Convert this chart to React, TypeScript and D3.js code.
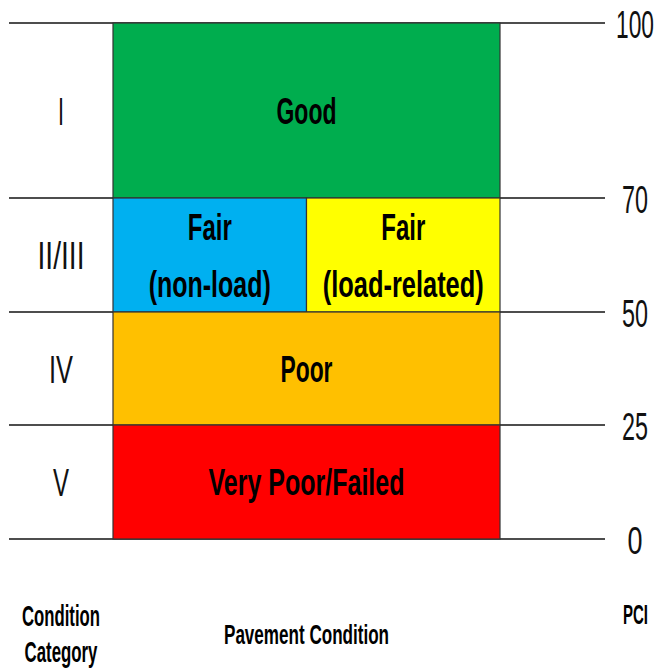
import React, { useLayoutEffect, useRef, useState } from "react";
import * as d3 from "d3";

// ---- data ----
const pciTicks = [0, 25, 50, 70, 100];
const categoryLabels = ["I", "II/III", "IV", "V"];
const categoryLow = [70, 50, 25, 0];
const categoryHigh = [100, 70, 50, 25];

const cellLabels = ["Good", "Fair|(non-load)", "Fair|(load-related)", "Poor", "Very Poor/Failed"];
const cellLow = [70, 50, 50, 25, 0];
const cellHigh = [100, 70, 70, 50, 25];
const cellColStart = [0, 0, 1, 0, 0];
const cellColEnd = [2, 1, 2, 2, 2];

const bottomLabels = ["Condition|Category", "Pavement Condition", "PCI"];

// ---- styles ----
const cellColors: Record<string, string> = {
  Good: "#00AD4E",
  "Fair|(non-load)": "#00B0F0",
  "Fair|(load-related)": "#FFFF00",
  Poor: "#FFC000",
  "Very Poor/Failed": "#FF0000",
};
const textWidths: Record<string, number> = {
  Good: 60,
  Fair: 44,
  "(non-load)": 122,
  "(load-related)": 161,
  Poor: 52,
  "Very Poor/Failed": 196,
  I: 6,
  "II/III": 47,
  IV: 24,
  V: 16,
  "100": 38,
  "70": 26,
  "50": 26,
  "25": 26,
  "0": 15,
  Condition: 78,
  Category: 73,
  "Pavement Condition": 165,
  PCI: 25,
};

const W = 657;
const H = 668;
const FONT = "'Liberation Sans', Arial, sans-serif";

function Label({
  s,
  cx,
  baseline,
  fs,
  bold,
  fill = "#000",
}: {
  s: string;
  cx: number;
  baseline: number;
  fs: number;
  bold: boolean;
  fill?: string;
}) {
  const ref = useRef<SVGTextElement>(null);
  const [sx, setSx] = useState(0.6);
  useLayoutEffect(() => {
    if (ref.current) {
      const natural = ref.current.getComputedTextLength();
      if (natural > 0) setSx(textWidths[s] / natural);
    }
  }, [s, fs]);
  return (
    <text
      ref={ref}
      transform={`translate(${cx},${baseline}) scale(${sx},1)`}
      textAnchor="middle"
      fontFamily={FONT}
      fontSize={fs}
      fontWeight={bold ? "bold" : "normal"}
      fill={fill}
    >
      {s}
    </text>
  );
}

export default function App() {
  // schematic (non-proportional) PCI axis
  const y = d3.scaleLinear().domain([0, 25, 50, 70, 100]).range([539, 425, 312, 198, 23]);
  const x = d3.scaleLinear().domain([0, 2]).range([113, 500]);
  const lineX0 = 9;
  const lineX1 = 605;
  const catX = 61;
  const tickX = 635;
  const capRatio = 0.716;
  const [condLine1, condLine2] = bottomLabels[0].split("|");

  return (
    <svg
      width={W}
      height={H}
      style={{ position: "absolute", left: 0, top: 0, display: "block", background: "#fff" }}
    >
      {/* horizontal lines */}
      {pciTicks.map((t) => (
        <line
          key={"l" + t}
          x1={lineX0}
          x2={lineX1}
          y1={y(t)}
          y2={y(t)}
          stroke="#4d4d4d"
          strokeWidth={2}
        />
      ))}
      {/* cells */}
      {cellLabels.map((c, i) => (
        <rect
          key={"r" + c}
          x={x(cellColStart[i])}
          y={y(cellHigh[i])}
          width={x(cellColEnd[i]) - x(cellColStart[i])}
          height={y(cellLow[i]) - y(cellHigh[i])}
          fill={cellColors[c]}
          stroke="#333"
          strokeWidth={1.2}
        />
      ))}
      {/* cell labels */}
      {cellLabels.map((c, i) => {
        const lines = c.split("|");
        const cx = (x(cellColStart[i]) + x(cellColEnd[i])) / 2;
        const cy = (y(cellLow[i]) + y(cellHigh[i])) / 2;
        const fs = 37;
        const cap = fs * capRatio;
        const gap = 57;
        return lines.map((s, j) => (
          <Label
            key={"c" + i + j}
            s={s}
            cx={cx}
            baseline={cy + cap / 2 + (j - (lines.length - 1) / 2) * gap}
            fs={fs}
            bold
          />
        ));
      })}
      {/* category labels */}
      {categoryLabels.map((c, i) => {
        const cy = (y(categoryLow[i]) + y(categoryHigh[i])) / 2;
        const fs = 39;
        return (
          <Label
            key={"k" + c}
            s={c}
            cx={catX}
            baseline={cy + (fs * capRatio) / 2 + 0.5}
            fs={fs}
            bold={false}
            fill="#111"
          />
        );
      })}
      {/* PCI tick labels */}
      {pciTicks.map((t) => {
        const fs = 39;
        return (
          <Label
            key={"t" + t}
            s={String(t)}
            cx={tickX}
            baseline={y(t) + 1.5 + (fs * capRatio) / 2}
            fs={fs}
            bold={false}
            fill="#111"
          />
        );
      })}
      {/* bottom labels */}
      <Label s={condLine1} cx={catX} baseline={626} fs={29} bold />
      <Label s={condLine2} cx={catX} baseline={662} fs={29} bold />
      <Label s={bottomLabels[1]} cx={(x(0) + x(2)) / 2} baseline={644} fs={27} bold />
      <Label s={bottomLabels[2]} cx={tickX + 0.5} baseline={624} fs={27} bold />
    </svg>
  );
}
